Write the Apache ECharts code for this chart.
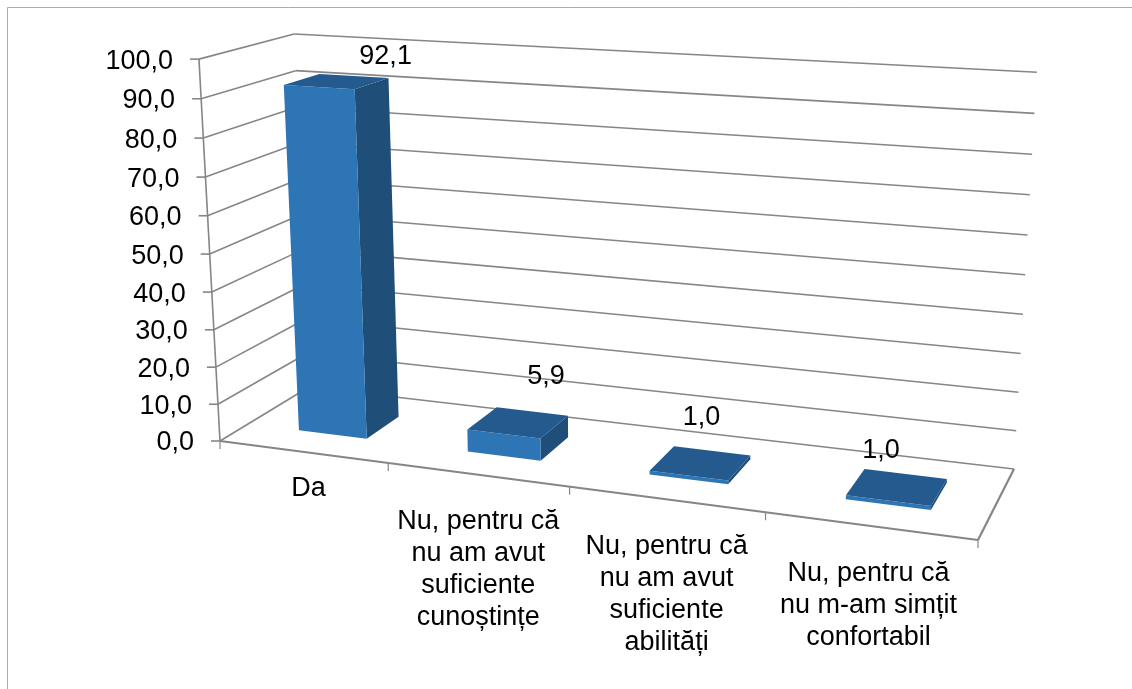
<!DOCTYPE html>
<html>
<head>
<meta charset="utf-8">
<style>html,body{margin:0;padding:0;background:#fff}#c{width:1132px;height:689px}</style>
<script src="https://cdn.jsdelivr.net/npm/echarts@6/dist/echarts.min.js"></script>
</head>
<body>
<div id="c"></div>
<script>
const categories = ["Da", "Nu, pentru că\nnu am avut\nsuficiente\ncunoștințe", "Nu, pentru că\nnu am avut\nsuficiente\nabilități", "Nu, pentru că\nnu m-am simțit\nconfortabil"];
const values = [92.1, 5.9, 1.0, 1.0];
const yTicks = [0, 10, 20, 30, 40, 50, 60, 70, 80, 90, 100];

// Layout: floor corners of the perspective box (front-left, front-right, back-right, back-left),
// the vanishing point of the verticals and the height scale.
const FLOOR = [[220, 441], [978, 540], [1014, 469], [309, 387]];
const VANISH = [609, 7500], HEIGHT_SCALE = 0.0541;
const V_PERSP = 1.043;
const BAR_U = 0.41, BAR_SHIFT = 0.02, BAR_W0 = 0.3, BAR_W1 = 0.69;
const CAT_OFFSET = [[6, 34], [1, 44], [1, 44], [-1, 45]];
const VALUE_OFFSET = [[49, -25], [28, -46], [1, -45], [-16, -36]];
const GRID = '#868686', FRONT = '#2E75B6', SIDE = '#1F4E79', TOP = '#245A8E';
const FONT = '"Liberation Sans", Arial, sans-serif', FS = 27;

function homography(q) {
  const [[x0, y0], [x1, y1], [x2, y2], [x3, y3]] = q;
  const dx1 = x1 - x2, dx2 = x3 - x2, sx = x0 - x1 + x2 - x3;
  const dy1 = y1 - y2, dy2 = y3 - y2, sy = y0 - y1 + y2 - y3;
  const det = dx1 * dy2 - dx2 * dy1;
  const g = (sx * dy2 - dx2 * sy) / det, h = (dx1 * sy - sx * dy1) / det;
  const a = x1 - x0 + g * x1, b = x3 - x0 + h * x3, d = y1 - y0 + g * y1, e = y3 - y0 + h * y3;
  return (u, w) => { const k = g * u + h * w + 1; return [(a * u + b * w + x0) / k, (d * u + e * w + y0) / k, k]; };
}
const floorH = homography(FLOOR);
function project(u, v, w) {
  const p = floorH(u, w), t = v / (v + (1 - v) * V_PERSP);
  const s = HEIGHT_SCALE / p[2] * (1 - 0.007 * w - 0.014 * u) * t;
  return [p[0] + (p[0] - VANISH[0]) * s, p[1] + (p[1] - VANISH[1]) * s];
}
function norm(params, api, cat, val) {
  const cs = params.coordSys, c = api.coord([cat, val]);
  return [(c[0] - cs.x) / cs.width, 1 - (c[1] - cs.y) / cs.height, api.size([1, 0])[0] / cs.width];
}
const line = (a, b, w, color) => ({ type: 'line', silent: true,
  shape: { x1: a[0], y1: a[1], x2: b[0], y2: b[1] }, style: { stroke: color || GRID, lineWidth: w || 1.6 } });
const poly = (pts, fill) => ({ type: 'polygon', silent: true, shape: { points: pts }, style: { fill: fill } });
const text = (x, y, s, align, va) => ({ type: 'text', silent: true, style: { x, y, text: s, fill: '#000',
  fontFamily: FONT, fontSize: FS, lineHeight: 32, align: align, verticalAlign: va } });

function renderFrame(params, api) {
  const tick = api.value(1);
  const v = norm(params, api, 0, tick)[1];
  const a = project(0, v, 0), b = project(0, v, 1), c = project(1, v, 1);
  const ch = [line(a, b), line(b, c), line([a[0] - 9, a[1]], a),
    text(a[0] - 26, a[1] + 2, tick.toFixed(1).replace('.', ','), 'right', 'middle')];
  if (tick === 0) {
    const top = project(0, 1, 0), fr = project(1, 0, 0);
    ch.push(line(a, top), line(a, fr, 2.2), line(fr, c, 2.2));
  }
  return { type: 'group', children: ch };
}
function renderXTicks(params, api) {
  const i = api.value(0), n = norm(params, api, i, 0), half = n[2] / 2;
  const tick = u => { const p = project(u, 0, 0); return line(p, [p[0], p[1] + 8], 1.2); };
  const ch = [tick(n[0] - half)];
  if (i === categories.length - 1) ch.push(tick(n[0] + half));
  const m = project(n[0], 0, 0);
  ch.push(text(m[0] + CAT_OFFSET[i][0], m[1] + CAT_OFFSET[i][1] - 13, categories[i], 'center', 'top'));
  return { type: 'group', children: ch };
}
function renderBars(params, api) {
  const i = api.value(0), val = api.value(1);
  const n = norm(params, api, i, val);
  const cu = n[0] + n[2] * BAR_SHIFT;
  const h = n[2] * BAR_U / 2, u0 = cu - h, u1 = cu + h, v = n[1];
  const P = project;
  const mid = P(cu, v, (BAR_W0 + BAR_W1) / 2);
  return { type: 'group', children: [
    poly([P(u1, 0, BAR_W0), P(u1, 0, BAR_W1), P(u1, v, BAR_W1), P(u1, v, BAR_W0)], SIDE),
    poly([P(u0, 0, BAR_W0), P(u1, 0, BAR_W0), P(u1, v, BAR_W0), P(u0, v, BAR_W0)], FRONT),
    poly([P(u0, v, BAR_W0), P(u1, v, BAR_W0), P(u1, v, BAR_W1), P(u0, v, BAR_W1)], TOP),
    text(mid[0] + VALUE_OFFSET[i][0], mid[1] + VALUE_OFFSET[i][1], val.toFixed(1).replace('.', ','), 'center', 'middle')
  ] };
}

const chart = echarts.init(document.getElementById('c'), null, { renderer: 'canvas' });
chart.setOption({
  animation: false,
  backgroundColor: '#fff',
  grid: { left: 0, right: 0, top: 0, bottom: 0 },
  xAxis: { type: 'category', data: categories, show: false },
  yAxis: { type: 'value', min: 0, max: 100, interval: 10, show: false },
  graphic: [{ type: 'polyline', silent: true, shape: { points: [[7.5, 689], [7.5, 7.5], [1132, 7.5]] },
    style: { stroke: '#ababab', fill: null, lineWidth: 1 } }],
  series: [
    { type: 'custom', z: 1, clip: false, renderItem: renderFrame, encode: { x: 0, y: 1 }, data: yTicks.map(t => [0, t]) },
    { type: 'custom', z: 2, clip: false, renderItem: renderXTicks, encode: { x: 0, y: 1 }, data: categories.map((c, i) => [i, 0]) },
    { type: 'custom', z: 3, clip: false, renderItem: renderBars, encode: { x: 0, y: 1 }, data: values.map((v, i) => [i, v]) }
  ]
});
</script>
</body>
</html>
